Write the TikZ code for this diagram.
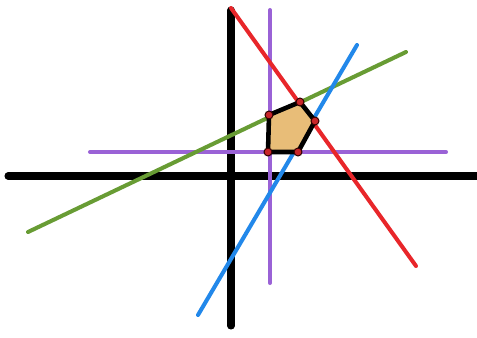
\documentclass[tikz,border=0pt]{standalone}
\usepackage{tikz}

\definecolor{lred}{HTML}{E8262A}
\definecolor{lpurple}{HTML}{9A62D6}
\definecolor{lblue}{HTML}{2288EA}
\definecolor{lgreen}{HTML}{689C34}
\definecolor{region}{HTML}{E8BD78}
\definecolor{vertred}{HTML}{C8262A}

\begin{document}
\begin{tikzpicture}[
            x=0.02cm, y=-0.02cm,
            axis/.style={line width=4pt, line cap=round},
            constraint/.style={line width=2.3pt, line cap=round},
            vertex/.style={circle, draw=black!80!red, fill=vertred, line width=0.6pt, inner sep=0pt, minimum size=4.5pt}
                           ]
            \useasboundingbox (0,0) rectangle (477,338);

            % 1. Draw the axes
            \draw[axis] (8,176) -- (477,176);
            \draw[axis] (231,10) -- (231,326);

            % 2. Draw the constraint lines
            \draw[constraint, lpurple] (90,152) -- (446,152);
            \draw[constraint, lpurple] (270,10) -- (270,283);
            \draw[constraint, lgreen] (28,232) -- (406,52);
            \draw[constraint, lblue] (198,315) -- (357,45);
            \draw[constraint, lred] (231,8) -- (416,266);

            % 3. Shade the feasible region
            \coordinate (A) at (269,115);
            \coordinate (B) at (300,102);
            \coordinate (C) at (315,121);
            \coordinate (D) at (298,152);
            \coordinate (E) at (268,152);
            \draw[line width=2.6pt, line join=round, fill=region] (A) -- (B) -- (C) -- (D) -- (E) -- cycle;

            % 4. Mark the corner points
            \foreach \p in {A, B, C, D, E} {
                \node[vertex] at (\p) {};
            }

        \end{tikzpicture}
\end{document}
